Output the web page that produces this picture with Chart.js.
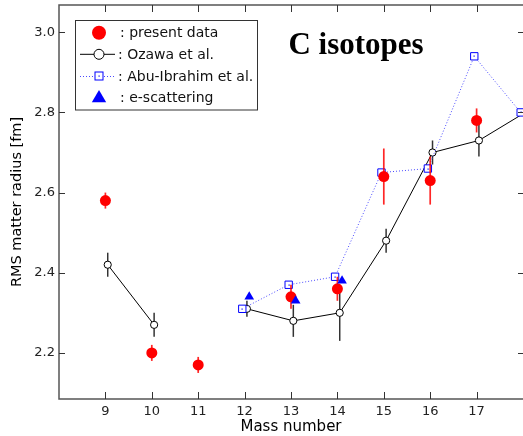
<!DOCTYPE html>
<html>
<head>
<meta charset="utf-8">
<script src="https://cdn.jsdelivr.net/npm/chart.js@4/dist/chart.umd.min.js"></script>
<style>
  html, body { margin: 0; padding: 0; background: #fff; }
  canvas { display: block; }
</style>
</head>
<body>
<canvas id="c" width="523" height="436"></canvas>
<script>
// Mass numbers of the carbon isotopes
const massNumbers = [9, 10, 11, 12, 13, 14, 15, 16, 17, 18];

// RMS matter radii [fm] and their uncertainties
const presentData = [2.58, 2.20, 2.17, null, 2.34, 2.36, 2.64, 2.63, 2.78, null];
const presentErr  = [0.02, 0.02, 0.02, null, 0.03, 0.03, 0.07, 0.06, 0.03, null];
const ozawa       = [2.42, 2.27, null, 2.31, 2.28, 2.30, 2.48, 2.70, 2.73, 2.80];
const ozawaErr    = [0.03, 0.03, null, 0.02, 0.04, 0.07, 0.03, 0.03, 0.04, null];
const abuIbrahim  = [null, null, null, 2.31, 2.37, 2.39, 2.65, 2.66, 2.94, 2.80];
const eScattering = [null, null, null, 2.34, 2.33, 2.38, null, null, null, null];

// Axis ticks and texts
const xTicks = [9, 10, 11, 12, 13, 14, 15, 16, 17];
const yTicks = [2.2, 2.4, 2.6, 2.8, 3.0];
const seriesNames = [': present data', ': Ozawa et al.', ': Abu-Ibrahim et al.', ': e-scattering'];
const chartTitle = 'C isotopes';
const xTitle = 'Mass number';
const yTitle = 'RMS matter radius [fm]';

// Small horizontal shifts so overlapping markers stay distinguishable
const OZAWA_SHIFT = 0.05;
const ABU_SHIFT = -0.05;
const ESCAT_SHIFT = 0.1;

const RED = '#ff0000';
const BLUE = '#0000ff';
const FONT = "'DejaVu Sans', Verdana, sans-serif";

const points = (vals, dx) => massNumbers.map((m, i) => ({ x: m + dx, y: vals[i] }));

// Vertical error bars, drawn just before the dataset they belong to
const errorBarPlugin = {
  id: 'errorBars',
  beforeDatasetDraw(chart, args) {
    const ds = chart.data.datasets[args.index];
    if (!ds.errorBars) return;
    const { ctx, chartArea: a, scales: { x, y } } = chart;
    ctx.save();
    ctx.beginPath();
    ctx.rect(a.left, a.top, a.right - a.left, a.bottom - a.top);
    ctx.clip();
    ctx.strokeStyle = ds.errorColor;
    ctx.lineWidth = ds.errorWidth;
    ds.data.forEach((p, i) => {
      const e = ds.errorBars[i];
      if (p.y == null || e == null) return;
      const px = x.getPixelForValue(p.x);
      ctx.beginPath();
      ctx.moveTo(px, y.getPixelForValue(p.y + e));
      ctx.lineTo(px, y.getPixelForValue(p.y - e));
      ctx.stroke();
    });
    ctx.restore();
  },
  afterDatasetDraw(chart, args) {
    // centre dot inside the open squares
    const ds = chart.data.datasets[args.index];
    if (!ds.centerDot) return;
    const ctx = chart.ctx;
    ctx.save();
    ctx.fillStyle = ds.borderColor;
    args.meta.data.forEach((el) => {
      if (el.skip) return;
      ctx.fillRect(Math.round(el.x) - 0.5, Math.round(el.y) - 0.5, 1.2, 1.2);
    });
    ctx.restore();
  }
};

// Axis frame (left, top, bottom) with inward tick marks on all four sides
const framePlugin = {
  id: 'frame',
  afterDatasetsDraw(chart) {
    const { ctx, chartArea: a, scales: { x, y } } = chart;
    ctx.save();
    ctx.strokeStyle = '#555';
    ctx.lineWidth = 1.5;
    ctx.beginPath();
    ctx.moveTo(a.right, a.top);
    ctx.lineTo(a.left, a.top);
    ctx.lineTo(a.left, a.bottom);
    ctx.lineTo(a.right, a.bottom);
    ctx.stroke();
    ctx.lineWidth = 1;
    ctx.strokeStyle = '#333';
    ctx.beginPath();
    x.ticks.forEach((t) => {
      const px = Math.round(x.getPixelForValue(t.value)) + 0.5;
      ctx.moveTo(px, a.bottom);
      ctx.lineTo(px, a.bottom - 7);
      ctx.moveTo(px, a.top);
      ctx.lineTo(px, a.top + 7);
    });
    y.ticks.forEach((t) => {
      const py = Math.round(y.getPixelForValue(t.value)) + 0.5;
      ctx.moveTo(a.left, py);
      ctx.lineTo(a.left + 6, py);
      ctx.moveTo(a.right, py);
      ctx.lineTo(a.right - 5, py);
    });
    ctx.stroke();
    ctx.restore();
  },
  afterDraw(chart) {
    const ctx = chart.ctx;
    ctx.save();
    // title
    ctx.fillStyle = '#000';
    ctx.font = "bold 31px 'Liberation Serif', 'Times New Roman', serif";
    ctx.textAlign = 'center';
    ctx.textBaseline = 'alphabetic';
    ctx.fillText(chartTitle, 356, 54);

    // legend box
    const bx = 75.5, by = 20.5, bw = 182, bh = 89.5;
    ctx.fillStyle = '#fff';
    ctx.fillRect(bx, by, bw, bh);
    ctx.strokeStyle = '#333';
    ctx.lineWidth = 1;
    ctx.strokeRect(bx, by, bw, bh);

    const rows = [32.7, 54.3, 76, 97.7];
    const mx = 99;

    // present data
    ctx.fillStyle = RED;
    ctx.beginPath();
    ctx.arc(mx, rows[0], 7, 0, Math.PI * 2);
    ctx.fill();

    // Ozawa et al.
    ctx.strokeStyle = '#000';
    ctx.lineWidth = 1;
    ctx.beginPath();
    ctx.moveTo(80, rows[1]);
    ctx.lineTo(115, rows[1]);
    ctx.stroke();
    ctx.fillStyle = '#fff';
    ctx.beginPath();
    ctx.arc(mx, rows[1], 5, 0, Math.PI * 2);
    ctx.fill();
    ctx.stroke();

    // Abu-Ibrahim et al.
    ctx.strokeStyle = '#4a4aff';
    ctx.setLineDash([1, 2]);
    ctx.beginPath();
    ctx.moveTo(80, rows[2] + 0.5);
    ctx.lineTo(116, rows[2] + 0.5);
    ctx.stroke();
    ctx.setLineDash([]);
    ctx.fillStyle = '#fff';
    ctx.fillRect(mx - 4, rows[2] - 4, 8, 8);
    ctx.strokeStyle = BLUE;
    ctx.strokeRect(mx - 4, rows[2] - 4, 8, 8);
    ctx.fillStyle = BLUE;
    ctx.fillRect(mx - 0.5, rows[2] - 0.5, 1.2, 1.2);

    // e-scattering
    const r = 8.3, cy = rows[3] + 0.5;
    ctx.fillStyle = BLUE;
    ctx.beginPath();
    ctx.moveTo(mx, cy - r);
    ctx.lineTo(mx + r * Math.sin(2 * Math.PI / 3), cy + r / 2);
    ctx.lineTo(mx - r * Math.sin(2 * Math.PI / 3), cy + r / 2);
    ctx.closePath();
    ctx.fill();

    // legend texts
    ctx.fillStyle = '#111';
    ctx.font = '14px ' + FONT;
    ctx.textAlign = 'left';
    ctx.textBaseline = 'middle';
    const tx = [120, 118, 118, 120];
    seriesNames.forEach((s, i) => ctx.fillText(s, tx[i], rows[i] + 1));
    ctx.restore();
  }
};

new Chart(document.getElementById('c'), {
  type: 'scatter',
  data: {
    datasets: [
      {
        label: 'e-scattering',
        data: points(eScattering, ESCAT_SHIFT),
        showLine: false,
        pointStyle: 'triangle',
        pointRadius: 5.6,
        pointBackgroundColor: BLUE,
        pointBorderColor: BLUE,
        pointBorderWidth: 0,
        order: 0
      },
      {
        label: 'present data',
        data: points(presentData, 0),
        showLine: false,
        pointStyle: 'circle',
        pointRadius: 5.5,
        pointBackgroundColor: RED,
        pointBorderColor: RED,
        pointBorderWidth: 0,
        errorBars: presentErr,
        errorColor: 'rgba(255,0,0,0.85)',
        errorWidth: 1.7,
        order: 1
      },
      {
        label: 'Abu-Ibrahim et al.',
        data: points(abuIbrahim, ABU_SHIFT),
        showLine: true,
        borderColor: BLUE,
        borderWidth: 1,
        borderDash: [1, 2],
        segment: { borderColor: '#4a4aff' },
        pointStyle: 'rect',
        pointRadius: 5.2,
        pointBackgroundColor: '#fff',
        pointBorderColor: BLUE,
        pointBorderWidth: 1,
        centerDot: true,
        order: 2
      },
      {
        label: 'Ozawa et al.',
        data: points(ozawa, OZAWA_SHIFT),
        showLine: true,
        spanGaps: false,
        borderColor: '#000',
        borderWidth: 1,
        pointStyle: 'circle',
        pointRadius: 3.6,
        pointBackgroundColor: '#fff',
        pointBorderColor: '#000',
        pointBorderWidth: 1,
        errorBars: ozawaErr,
        errorColor: '#333',
        errorWidth: 1.5,
        order: 3
      }
    ]
  },
  options: {
    responsive: false,
    animation: false,
    events: [],
    layout: { autoPadding: false, padding: { top: 5, right: 0, left: 0, bottom: 0 } },
    plugins: { legend: { display: false }, tooltip: { enabled: false } },
    elements: { line: { tension: 0 } },
    scales: {
      x: {
        type: 'linear',
        position: 'bottom',
        min: 8,
        max: 18,
        grid: { display: false, drawTicks: false },
        border: { display: false },
        afterBuildTicks: (s) => { s.ticks = xTicks.map((v) => ({ value: v })); },
        afterFit: (s) => {
          s.height = 37;
          s.paddingLeft = 0;
          s.paddingRight = 0;
        },
        ticks: {
          padding: 5,
          color: '#222',
          font: { family: FONT, size: 13 },
          maxRotation: 0,
          callback: (v) => String(v)
        },
        title: {
          display: true,
          text: xTitle,
          color: '#000',
          font: { family: FONT, size: 15 },
          padding: { top: 0, bottom: 0 }
        }
      },
      y: {
        type: 'linear',
        position: 'left',
        min: 2.085,
        max: 3.068,
        grid: { display: false, drawTicks: false },
        border: { display: false },
        afterBuildTicks: (s) => { s.ticks = yTicks.map((v) => ({ value: v })); },
        afterFit: (s) => {
          s.width = 59;
          s.paddingTop = 0;
          s.paddingBottom = 0;
        },
        ticks: {
          padding: 4,
          color: '#222',
          font: { family: FONT, size: 13 },
          callback: (v) => Number(v).toFixed(1)
        },
        title: {
          display: true,
          text: yTitle,
          color: '#000',
          font: { family: FONT, size: 14.5 },
          padding: { top: 9, bottom: 0 }
        }
      }
    }
  },
  plugins: [errorBarPlugin, framePlugin]
});
</script>
</body>
</html>
